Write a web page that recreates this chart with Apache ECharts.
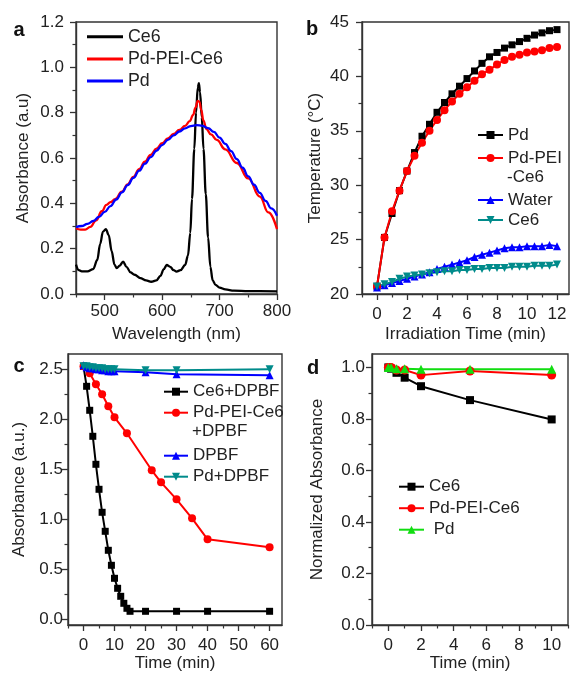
<!DOCTYPE html>
<html><head><meta charset="utf-8">
<script src="https://cdn.jsdelivr.net/npm/echarts@6/dist/echarts.min.js"></script>
<style>html,body{margin:0;padding:0;background:#fff}#c{width:570px;height:674px}</style>
</head><body><div id="c"></div>
<script>
// ---------- Panel a: UV-vis absorbance ----------
const aCe6Wl  = [450,455,460,470,480,487,492,497,502,507,512,517,521,526,532,538,545,552,562,572,581,590,597,603,608,614,620,625,632,640,645,649,652,656,659,662,664,666,669,672,676,680,684,688,693,700,710,725,750,800];
const aCe6Abs = [0.13,0.105,0.10,0.10,0.11,0.15,0.22,0.275,0.286,0.26,0.19,0.13,0.114,0.125,0.143,0.12,0.095,0.085,0.07,0.06,0.054,0.06,0.08,0.11,0.128,0.12,0.105,0.099,0.105,0.128,0.17,0.27,0.42,0.64,0.80,0.91,0.93,0.89,0.78,0.64,0.44,0.25,0.12,0.06,0.04,0.028,0.02,0.015,0.013,0.012];
const aPdPeiWl  = [450,458,466,475,485,495,503,510,518,530,540,550,560,570,580,590,600,610,620,630,640,648,654,658,662,665,668,672,677,685,695,710,730,750,770,785,800];
const aPdPeiAbs = [0.29,0.284,0.284,0.296,0.325,0.365,0.393,0.405,0.418,0.452,0.484,0.517,0.551,0.584,0.614,0.641,0.665,0.687,0.706,0.724,0.742,0.763,0.79,0.822,0.852,0.848,0.812,0.765,0.728,0.704,0.68,0.638,0.578,0.51,0.43,0.36,0.286];
const aPdWl  = [450,460,470,480,490,500,510,520,530,540,550,560,570,580,590,600,610,620,630,640,650,660,670,680,690,700,710,720,730,740,750,760,770,780,790,800];
const aPdAbs = [0.295,0.30,0.309,0.322,0.34,0.362,0.388,0.417,0.448,0.48,0.512,0.544,0.575,0.604,0.632,0.657,0.68,0.70,0.717,0.731,0.741,0.745,0.742,0.732,0.715,0.69,0.662,0.63,0.595,0.557,0.519,0.482,0.446,0.411,0.378,0.345];

// ---------- Panel b: temperature vs irradiation time ----------
const bTime  = [0,0.5,1,1.5,2,2.5,3,3.5,4,4.5,5,5.5,6,6.5,7,7.5,8,8.5,9,9.5,10,10.5,11,11.5,12];
const bPd    = [20.7,25.2,27.4,29.5,31.3,33.0,34.5,35.6,36.7,37.6,38.4,39.1,39.8,40.5,41.2,41.8,42.2,42.6,42.9,43.2,43.5,43.8,44.0,44.2,44.3];
const bPdPei = [20.7,25.2,27.6,29.5,31.3,32.7,33.9,35.0,36.0,36.9,37.7,38.4,39.0,39.6,40.2,40.6,41.1,41.5,41.8,42.0,42.2,42.3,42.4,42.6,42.7];
const bWater = [20.6,20.8,21.0,21.2,21.4,21.6,21.8,22.0,22.3,22.5,22.7,22.9,23.1,23.4,23.6,23.8,24.0,24.2,24.3,24.3,24.4,24.4,24.4,24.5,24.4];
const bCe6   = [20.7,20.9,21.1,21.4,21.6,21.7,21.8,21.9,22.0,22.1,22.1,22.2,22.2,22.3,22.3,22.4,22.4,22.4,22.5,22.5,22.5,22.6,22.6,22.6,22.7];

// ---------- Panel c: DPBF absorbance vs time ----------
const cCe6T   = [0,1,2,3,4,5,6,7,8,9,10,11,12,13,14,15,20,30,40,60];
const cCe6A   = [2.53,2.33,2.09,1.83,1.55,1.30,1.07,0.88,0.69,0.54,0.41,0.31,0.23,0.16,0.11,0.08,0.08,0.08,0.08,0.08];
const cPdPeiT = [0,2,4,6,8,10,14,22,25,30,35,40,60];
const cPdPeiA = [2.53,2.46,2.35,2.25,2.13,2.02,1.86,1.49,1.37,1.20,1.01,0.80,0.72];
const cDpbfT  = [0,1,2,3,4,5,6,7,8,9,10,20,30,60];
const cDpbfA  = [2.54,2.52,2.51,2.51,2.50,2.50,2.49,2.49,2.48,2.48,2.48,2.47,2.45,2.44];
const cPdT    = [0,1,2,3,4,5,6,7,8,9,10,20,30,60];
const cPdA    = [2.53,2.53,2.52,2.52,2.51,2.51,2.51,2.50,2.50,2.50,2.50,2.49,2.49,2.50];

// ---------- Panel d: normalized absorbance vs time ----------
const dTime  = [0,0.17,0.5,1,2,5,10];
const dCe6   = [1.0,0.995,0.979,0.96,0.927,0.873,0.798];
const dPdPei = [1.0,1.0,0.99,0.99,0.97,0.986,0.97];
const dPd    = [1.0,1.0,0.995,0.995,0.993,0.993,0.993];

// ---------- tick values ----------
const aXMajor = [500,600,700,800], aXMinor = [450,550,650,750];
const aYMajor = [0,0.2,0.4,0.6,0.8,1.0,1.2], aYMinor = [0.1,0.3,0.5,0.7,0.9,1.1];
const bXMajor = [0,2,4,6,8,10,12], bXMinor = [-1,1,3,5,7,9,11];
const bYMajor = [20,25,30,35,40,45], bYMinor = [22.5,27.5,32.5,37.5,42.5];
const cXMajor = [0,10,20,30,40,50,60], cXMinor = [-5,5,15,25,35,45,55];
const cYMajor = [0,0.5,1.0,1.5,2.0,2.5], cYMinor = [0.25,0.75,1.25,1.75,2.25];
const dXMajor = [0,2,4,6,8,10], dXMinor = [-1,1,3,5,7,9,11];
const dYMajor = [0,0.2,0.4,0.6,0.8,1.0], dYMinor = [0.1,0.3,0.5,0.7,0.9];

const FONT = '"Liberation Sans", Arial, sans-serif';
const TXT = '#222';
const AX = '#333';
const FS = 17;

function pairs(xs, ys) { return xs.map((x, i) => [x, ys[i]]); }
const fmt1 = v => Number(v).toFixed(1);
const fmt0 = v => String(v);

function axisPair(gi, pos, min, max, major, minor, fmt, name, nameGap, margin) {
  const main = {
    type: 'value', gridIndex: gi, position: pos, min: min, max: max,
    axisLine: { show: true, onZero: false, lineStyle: { color: AX, width: 1.4 } },
    axisTick: { show: true, inside: false, length: 6, customValues: major, lineStyle: { color: AX, width: 1.3 } },
    axisLabel: { show: true, customValues: major, formatter: fmt, margin: margin, color: TXT, fontSize: FS, fontFamily: FONT, hideOverlap: false },
    splitLine: { show: false }, minorTick: { show: false },
    name: name, nameLocation: 'middle', nameGap: nameGap,
    nameTextStyle: { color: TXT, fontSize: FS, fontFamily: FONT }
  };
  const mn = {
    type: 'value', gridIndex: gi, position: pos, min: min, max: max,
    axisLine: { show: false, onZero: false },
    axisTick: { show: true, inside: false, length: 3.5, customValues: minor, lineStyle: { color: AX, width: 1.2 } },
    axisLabel: { show: false }, splitLine: { show: false }
  };
  return [main, mn];
}

const grids = [
  { left: 76,  top: 22,  width: 201, height: 272 },
  { left: 362, top: 22,  width: 207, height: 272 },
  { left: 68,  top: 354, width: 214, height: 271 },
  { left: 372, top: 354, width: 196, height: 271 }
].map(g => Object.assign(g, { show: true, borderColor: AX, borderWidth: 1.4, backgroundColor: 'transparent', containLabel: false }));

const xAxes = [].concat(
  axisPair(0, 'bottom', 450, 800, aXMajor, aXMinor, fmt0, 'Wavelength (nm)', 32, 9),
  axisPair(1, 'bottom', -1, 12.8, bXMajor, bXMinor, fmt0, 'Irradiation Time (min)', 32, 12),
  axisPair(2, 'bottom', -5, 64, cXMajor, cXMinor, fmt0, 'Time (min)', 23, 12),
  axisPair(3, 'bottom', -1, 11, dXMajor, dXMinor, fmt0, 'Time (min)', 23, 12)
);
const yAxes = [].concat(
  axisPair(0, 'left', 0, 1.2, aYMajor, aYMinor, fmt1, 'Absorbance (a.u)', 44, 12),
  axisPair(1, 'left', 20, 45, bYMajor, bYMinor, fmt0, 'Temperature (\u00B0C)', 38, 13),
  axisPair(2, 'left', -0.057, 2.653, cYMajor, cYMinor, fmt1, 'Absorbance (a.u.)', 40, 5),
  axisPair(3, 'left', 0, 1.052, dYMajor, dYMinor, fmt1, 'Normalized Absorbance', 46, 7)
);

const TRI_DOWN = 'path://M0,0L2,0L1,1.75Z';
function ser(panel, name, data, color, symbol, size, width, extra) {
  return Object.assign({
    type: 'line', name: name, xAxisIndex: panel * 2, yAxisIndex: panel * 2,
    data: data, symbol: symbol, symbolSize: size, showSymbol: symbol !== 'none',
    lineStyle: { color: color, width: width }, itemStyle: { color: color, borderWidth: 0 },
    emphasis: { disabled: true }, silent: true, clip: true
  }, extra || {});
}

const series = [
  ser(0, 'a|Ce6', pairs(aCe6Wl, aCe6Abs), '#000000', 'none', 0, 2.3, { smooth: 0.35, smoothMonotone: 'x' }),
  ser(0, 'a|Pd-PEI-Ce6', pairs(aPdPeiWl, aPdPeiAbs), '#ff0000', 'none', 0, 2.3, { smooth: 0.45, smoothMonotone: 'x' }),
  ser(0, 'a|Pd', pairs(aPdWl, aPdAbs), '#0000ff', 'none', 0, 2.3, { smooth: 0.45, smoothMonotone: 'x' }),

  ser(1, 'b|Pd', pairs(bTime, bPd), '#000000', 'rect', 7, 2),
  ser(1, 'b|Pd-PEI-Ce6', pairs(bTime, bPdPei), '#ff0000', 'circle', 8, 2),
  ser(1, 'b|Water', pairs(bTime, bWater), '#0000ff', 'triangle', 8, 2),
  ser(1, 'b|Ce6', pairs(bTime, bCe6), '#008b8b', TRI_DOWN, 8, 2),

  ser(2, 'c|Ce6+DPBF', pairs(cCe6T, cCe6A), '#000000', 'rect', 7, 2),
  ser(2, 'c|Pd-PEI-Ce6+DPBF', pairs(cPdPeiT, cPdPeiA), '#ff0000', 'circle', 8, 2),
  ser(2, 'c|DPBF', pairs(cDpbfT, cDpbfA), '#0000ff', 'triangle', 8, 2),
  ser(2, 'c|Pd+DPBF', pairs(cPdT, cPdA), '#008b8b', TRI_DOWN, 8, 2),

  ser(3, 'd|Ce6', pairs(dTime, dCe6), '#000000', 'rect', 8, 2),
  ser(3, 'd|Pd-PEI-Ce6', pairs(dTime, dPdPei), '#ff0000', 'circle', 9, 2),
  ser(3, 'd|Pd', pairs(dTime, dPd), '#11dd11', 'triangle', 9, 2)
];

const legendLabels = {
  'a|Ce6': 'Ce6', 'a|Pd-PEI-Ce6': 'Pd-PEI-Ce6', 'a|Pd': 'Pd',
  'b|Pd': 'Pd', 'b|Pd-PEI-Ce6': 'Pd-PEI', 'b|Water': 'Water', 'b|Ce6': 'Ce6',
  'c|Ce6+DPBF': 'Ce6+DPBF', 'c|Pd-PEI-Ce6+DPBF': 'Pd-PEI-Ce6', 'c|DPBF': 'DPBF', 'c|Pd+DPBF': 'Pd+DPBF',
  'd|Ce6': 'Ce6', 'd|Pd-PEI-Ce6': 'Pd-PEI-Ce6', 'd|Pd': ' Pd'
};
function legend(data, left, top, itemWidth, itemHeight, gap, icon, fs) {
  const l = {
    data: data, left: left, top: top, orient: 'vertical', padding: 0,
    itemWidth: itemWidth, itemHeight: itemHeight, itemGap: gap, selectedMode: false,
    formatter: n => legendLabels[n],
    textStyle: { color: TXT, fontSize: fs || FS, fontFamily: FONT, lineHeight: 18 }
  };
  if (icon) l.icon = icon;
  return l;
}
const legends = [
  legend(['a|Ce6', 'a|Pd-PEI-Ce6', 'a|Pd'], 87, 36.7 - 9, 36, 3, 4.2, 'rect', 17.8),
  legend(['b|Pd', 'b|Pd-PEI-Ce6'], 477, 135 - 9, 25, 10, 5),
  legend(['b|Water', 'b|Ce6'], 477, 200 - 9, 25, 10, 2),
  legend(['c|Ce6+DPBF', 'c|Pd-PEI-Ce6+DPBF'], 163, 391.7 - 9, 24, 10, 3),
  legend(['c|DPBF', 'c|Pd+DPBF'], 163, 455.7 - 9, 24, 10, 3),
  legend(['d|Ce6', 'd|Pd-PEI-Ce6', 'd|Pd'], 398, 486.7 - 9, 25, 10, 3.5)
];

function txt(text, x, y, opts) {
  return { type: 'text', x: x, y: y, silent: true, style: Object.assign({
    text: text, fill: TXT, font: FS + 'px ' + FONT, textAlign: 'left', textVerticalAlign: 'middle'
  }, opts || {}) };
}
const graphics = [
  txt('a', 19, 30, { font: 'bold 20px ' + FONT, textAlign: 'center', fill: '#111' }),
  txt('b', 312, 29, { font: 'bold 20px ' + FONT, textAlign: 'center', fill: '#111' }),
  txt('c', 19, 366, { font: 'bold 20px ' + FONT, textAlign: 'center', fill: '#111' }),
  txt('d', 313, 368, { font: 'bold 20px ' + FONT, textAlign: 'center', fill: '#111' }),
  txt('-Ce6', 507, 177),
  txt('+DPBF', 192, 431.7)
];

const chart = echarts.init(document.getElementById('c'), null, { renderer: 'canvas', width: 570, height: 674 });
chart.setOption({
  animation: false,
  backgroundColor: '#ffffff',
  textStyle: { fontFamily: FONT },
  grid: grids,
  xAxis: xAxes,
  yAxis: yAxes,
  legend: legends,
  series: series,
  graphic: graphics
});
</script>
</body></html>
